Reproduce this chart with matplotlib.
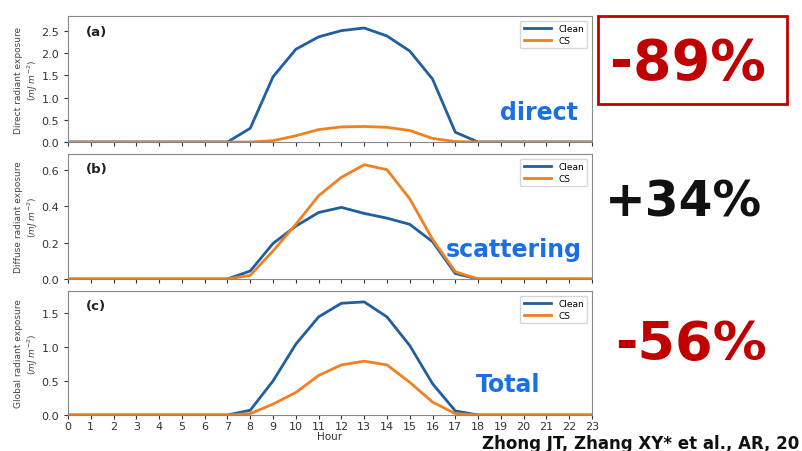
import matplotlib
matplotlib.use('Agg')

import matplotlib.pyplot as plt
from matplotlib.patches import Rectangle

# hour of day
hours = list(range(24))

# direct radiant exposure (MJ m-2)
direct_clean = [0, 0, 0, 0, 0, 0, 0, 0, 0.31, 1.47, 2.09, 2.37, 2.51, 2.57,
                2.39, 2.05, 1.42, 0.22, 0, 0, 0, 0, 0, 0]
direct_cs = [0, 0, 0, 0, 0, 0, 0, 0, 0, 0.03, 0.14, 0.28, 0.34, 0.35,
             0.33, 0.26, 0.08, 0.01, 0, 0, 0, 0, 0, 0]

# diffuse radiant exposure
diffuse_clean = [0, 0, 0, 0, 0, 0, 0, 0, 0.044, 0.195, 0.29, 0.365, 0.393, 0.36,
                 0.334, 0.30, 0.205, 0.03, 0, 0, 0, 0, 0, 0]
diffuse_cs = [0, 0, 0, 0, 0, 0, 0, 0, 0.02, 0.154, 0.30, 0.457, 0.558, 0.627,
              0.60, 0.44, 0.218, 0.04, 0, 0, 0, 0, 0, 0]

# global radiant exposure
global_clean = [0, 0, 0, 0, 0, 0, 0, 0, 0.07, 0.50, 1.04, 1.44, 1.64, 1.66,
                1.44, 1.02, 0.46, 0.06, 0, 0, 0, 0, 0, 0]
global_cs = [0, 0, 0, 0, 0, 0, 0, 0, 0.02, 0.16, 0.33, 0.58, 0.735, 0.79,
             0.735, 0.48, 0.19, 0.02, 0, 0, 0, 0, 0, 0]

panel_tags = ['(a)', '(b)', '(c)']
ylabels = ['Direct radiant exposure', 'Diffuse radiant exposure', 'Global radiant exposure']
yticks = [[0.0, 0.5, 1.0, 1.5, 2.0, 2.5], [0.0, 0.2, 0.4, 0.6], [0.0, 0.5, 1.0, 1.5]]
ytop = [2.84, 0.686, 1.82]
words = ['direct', 'scattering', 'Total']
changes = ['-89%', '+34%', '-56%']
change_colors = ['#c00000', '#111111', '#c00000']

W, H = 803, 452
fig = plt.figure(figsize=(W / 100, H / 100), dpi=100)

# axes boxes in pixels: (top, bottom)
rows = [(17, 143), (155, 280), (292, 416)]
x0, x1 = 68, 592
series = [(direct_clean, direct_cs), (diffuse_clean, diffuse_cs), (global_clean, global_cs)]

# where the blue words and the big numbers sit (pixels)
word_pos = [(539, 113), (514, 250), (508, 385)]
change_pos = [(688, 64), (683, 203), (691, 345)]
change_size = [40, 35, 39]

clean_col = '#1f5f9f'
cs_col = '#f08020'

for i, (top, bot) in enumerate(rows):
    ax = fig.add_axes([x0 / W, 1 - bot / H, (x1 - x0) / W, (bot - top) / H])
    clean, cs = series[i]
    ax.plot(hours, clean, color=clean_col, lw=2, label='Clean')
    ax.plot(hours, cs, color=cs_col, lw=2, label='CS')
    ax.set_xlim(0, 23)
    ax.set_ylim(0, ytop[i])
    ax.set_xticks(hours)
    ax.set_yticks(yticks[i])
    ax.set_yticklabels([f'{v:.1f}' for v in yticks[i]])
    ax.tick_params(labelsize=8, colors='#333333', length=3)
    ax.tick_params(axis='x', pad=1.5)
    if i < 2:
        ax.set_xticklabels([])
    else:
        ax.set_xlabel('Hour', fontsize=7.5, color='#333333', labelpad=0)
    for sp in ax.spines.values():
        sp.set_color('#888888')
    ax.set_ylabel(ylabels[i] + '\n' + r'($mJ\ m^{-2}$)', fontsize=6.5, color='#444444',
                  labelpad=1)
    ax.text(0.035, 0.88, panel_tags[i], transform=ax.transAxes, fontsize=9.5,
            fontweight='bold', color='#222222', va='center')
    ax.legend(loc='upper right', fontsize=6.5, frameon=True, handlelength=3,
              borderpad=0.4, labelspacing=0.3)

    wx, wy = word_pos[i]
    fig.text(wx / W, 1 - wy / H, words[i], fontsize=17,
             fontweight='bold', color='#1a6fe6', ha='center', va='center')

    # big percentage to the right
    cx, cy = change_pos[i]
    fig.text(cx / W, 1 - cy / H, changes[i], fontsize=change_size[i],
             fontweight='bold', color=change_colors[i], ha='center', va='center')

# red frame round the first number
fig.patches.append(Rectangle((598 / W, 1 - 105 / H), (787 - 598) / W, (105 - 17) / H,
                             transform=fig.transFigure, fill=False,
                             edgecolor='#c00000', linewidth=2))

fig.text(482 / W, 1 - 449 / H, 'Zhong JT, Zhang XY* et al., AR, 20', fontsize=12,
         fontweight='bold', color='#111111', ha='left', va='baseline')

fig.savefig('out.png', dpi=100)
